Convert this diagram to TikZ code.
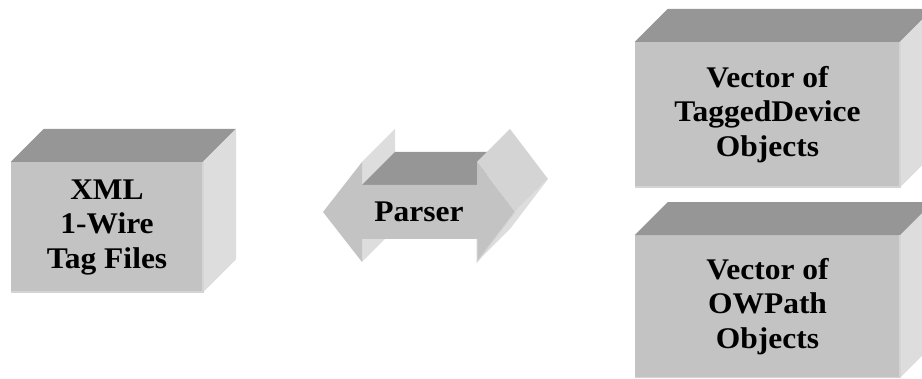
\documentclass[tikz,border=0pt]{standalone}
\usepackage{fontspec}
\setmainfont{Liberation Serif}
\newfontfamily\boxfont[FakeStretch=1.05]{Liberation Serif}
\usepackage{tikz}
\usetikzlibrary{positioning,calc}
\usepackage{xcolor}
\definecolor{frontgray}{HTML}{C3C3C3}
\definecolor{topgray}{HTML}{969696}
\definecolor{sidegray}{HTML}{DDDDDD}
\definecolor{edgegray}{HTML}{D4D4D4}

\begin{document}
\begin{tikzpicture}[x=1pt,y=1pt]
    \tikzstyle{boxfront} = [rectangle,fill=frontgray,draw=none,inner sep=0pt,align=center,font=\boxfont\fontsize{30}{34.5}\selectfont\bfseries]
    \tikzstyle{boxtop} = [fill=topgray]
    \tikzstyle{boxside} = [fill=sidegray]
    \tikzstyle{boxedge} = [draw=edgegray,line width=1.5pt]
    \useasboundingbox (0,0) rectangle (922,379);
    \clip (0,0) rectangle (922,379);
    % xml tag files
    \node[boxfront,minimum width=192pt,minimum height=130pt] (tagfiles) at (107,152) {XML\\1-Wire\\Tag Files};
    \fill[boxtop] (tagfiles.north west) -- ++(33,33) -- ($(tagfiles.north east)+(33,33)$) -- (tagfiles.north east) -- cycle;
    \fill[boxside] (tagfiles.north east) -- ++(33,33) -- ($(tagfiles.south east)+(33,33)$) -- (tagfiles.south east) -- cycle;
    \draw[boxedge] (tagfiles.north east) -- (tagfiles.south east) -- (tagfiles.south west);
    % parser arrow
    \coordinate (tipL) at (323,167);
    \coordinate (headTL) at (362,217);
    \coordinate (shaftTL) at (362,194);
    \coordinate (shaftTR) at (477,194);
    \coordinate (headTR) at (477,217);
    \coordinate (tipR) at (515,167);
    \coordinate (headBR) at (477,117);
    \coordinate (shaftBR) at (477,140);
    \coordinate (shaftBL) at (362,140);
    \coordinate (headBL) at (362,117);
    \fill[boxside] (headTL) -- ++(33,33) -- ($(shaftTL)+(33,33)$) -- (shaftTL) -- cycle;
    \fill[boxside] (shaftBL) -- ++(33,33) -- ($(headBL)+(33,33)$) -- (headBL) -- cycle;
    \fill[boxtop] (shaftTL) -- (shaftTR) -- ++(33,33) -- ($(shaftTL)+(33,33)$) -- cycle;
    \fill[sidegray!96!black] (headTR) -- ++(33,33) -- ($(tipR)+(33,33)$) -- (tipR) -- cycle;
    \fill[boxside] (tipR) -- ++(33,33) -- ($(headBR)+(33,33)$) -- (headBR) -- cycle;
    \fill[frontgray] (tipL) -- (headTL) -- (shaftTL) -- (shaftTR) -- (headTR) -- (tipR)
        -- (headBR) -- (shaftBR) -- (shaftBL) -- (headBL) -- cycle;
    \draw[boxedge,line width=1pt] (tipR) -- (headBR) -- (shaftBR);
    \node[font=\boxfont\fontsize{30}{34.5}\selectfont\bfseries] (parser) at (419,167) {Parser};
    % tagged device objects
    \node[boxfront,minimum width=265pt,minimum height=145pt] (tagged) at (767.5,264.5) {Vector of\\TaggedDevice\\Objects};
    \fill[boxtop] (tagged.north west) -- ++(33,33) -- ($(tagged.north east)+(33,33)$) -- (tagged.north east) -- cycle;
    \fill[boxside] (tagged.north east) -- ++(33,33) -- ($(tagged.south east)+(33,33)$) -- (tagged.south east) -- cycle;
    \draw[boxedge] (tagged.north east) -- (tagged.south east) -- (tagged.south west);
    % owpath objects
    \node[boxfront,minimum width=265pt,minimum height=142pt] (owpath) [below = 48pt of tagged] {Vector of\\OWPath\\Objects};
    \fill[boxtop] (owpath.north west) -- ++(33,33) -- ($(owpath.north east)+(33,33)$) -- (owpath.north east) -- cycle;
    \fill[boxside] (owpath.north east) -- ++(33,33) -- ($(owpath.south east)+(33,33)$) -- (owpath.south east) -- cycle;
    \draw[boxedge] (owpath.north east) -- (owpath.south east) -- (owpath.south west);
\end{tikzpicture}
\end{document}
